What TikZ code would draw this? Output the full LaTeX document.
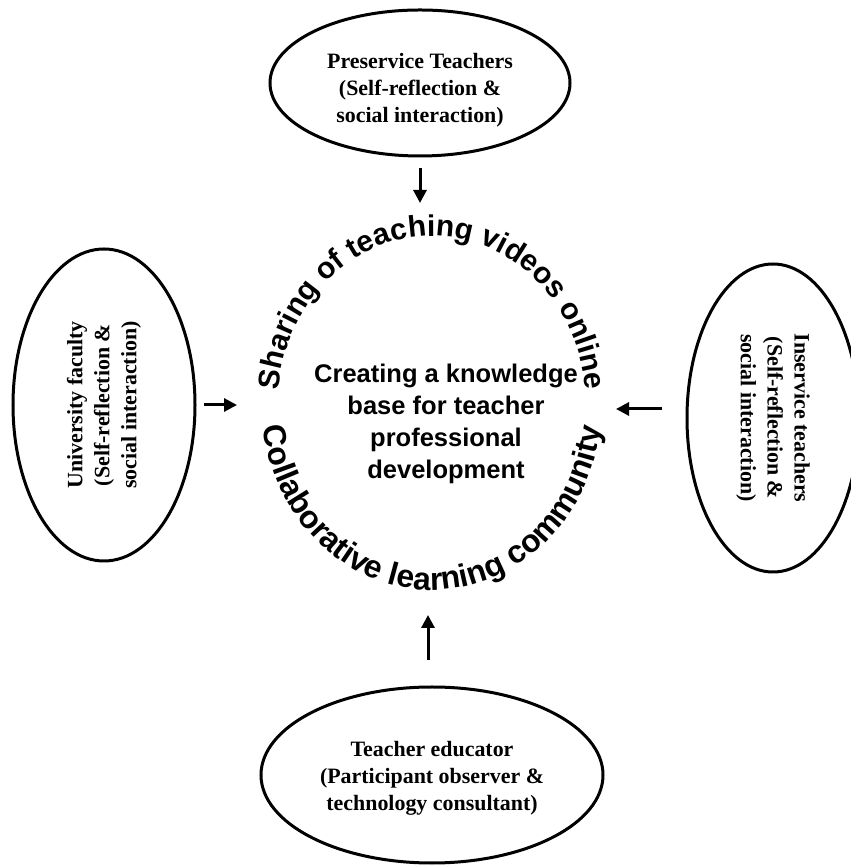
\documentclass[tikz,border=0pt]{standalone}
\usepackage{fontspec}
\setmainfont{Liberation Serif}
\setsansfont{Liberation Sans}
\usetikzlibrary{shapes.geometric, arrows.meta, decorations.text}
\begin{document}
\begin{tikzpicture}[x=1bp,y=1bp,
  roleshape/.style={draw, ellipse, line width=3bp, inner sep=0pt},
  roletext/.style={align=center, inner sep=0pt,
    font=\fontsize{22}{27}\selectfont\rmfamily\bfseries},
  arr/.style={line width=3bp, -{Triangle[length=13bp,width=13bp]}},
  coretext/.style={align=center, font=\fontsize{25.6}{32}\selectfont\sffamily\bfseries},
]
\useasboundingbox (0,0) rectangle (851,866);

% role ellipses
\node[roleshape, minimum width=300bp, minimum height=146bp] (top) at (420,783) {};
\node[roletext] (topText) at ([yshift=-7bp]top.center)
  {Preservice Teachers\\(Self-reflection \&\\social interaction)};
\node[roleshape, minimum width=342bp, minimum height=176bp] (bot) at (432,91) {};
\node[roletext] (botText) at ([yshift=-3bp]bot.center)
  {Teacher educator\\(Participant observer \&\\technology consultant)};
\node[roleshape, minimum width=182bp, minimum height=312bp] (left) at (104,461) {};
\node[roletext, rotate=90] (leftText) at (left.center)
  {University faculty\\(Self-reflection \&\\social interaction)};
\node[roleshape, minimum width=172bp, minimum height=308bp] (right) at (773,448) {};
\node[roletext, rotate=-90] (rightText) at (right.center)
  {Inservice teachers\\(Self-reflection \&\\social interaction)};

% centre
\coordinate (ring) at (432,462);
\node[coretext] (core) at (446,442)
  {Creating a knowledge\\base for teacher\\professional\\development};

% curved texts
\path[decorate, decoration={text along path, text align=center,
  text={|\fontsize{30}{36}\selectfont\sffamily\bfseries|Sharing of teaching videos online}}]
  ([shift={(185:154bp and 168bp)}]ring) arc[start angle=185, end angle=-5, x radius=154bp, y radius=168bp];
\path[decorate, decoration={text along path, text align=center,
  text={|\fontsize{32}{38}\selectfont\sffamily\bfseries|Collaborative learning community}}]
  ([shift={(180:170bp and 186bp)}]ring) arc[start angle=180, end angle=360, x radius=170bp, y radius=186bp];

% arrow tips
\coordinate (topTip) at (420,663);
\coordinate (botTip) at (428,251);
\coordinate (leftTip) at (237,461);
\coordinate (rightTip) at (616,457);

\draw[arr, shorten <=11bp] (top.south -| topTip) -- (topTip);
\draw[arr, shorten <=25bp] (bot.north -| botTip) -- (botTip);
\draw[arr, shorten <=7bp] (left.east |- leftTip) -- (leftTip);
\draw[arr, shorten <=24bp] (right.west |- rightTip) -- (rightTip);
\end{tikzpicture}
\end{document}
